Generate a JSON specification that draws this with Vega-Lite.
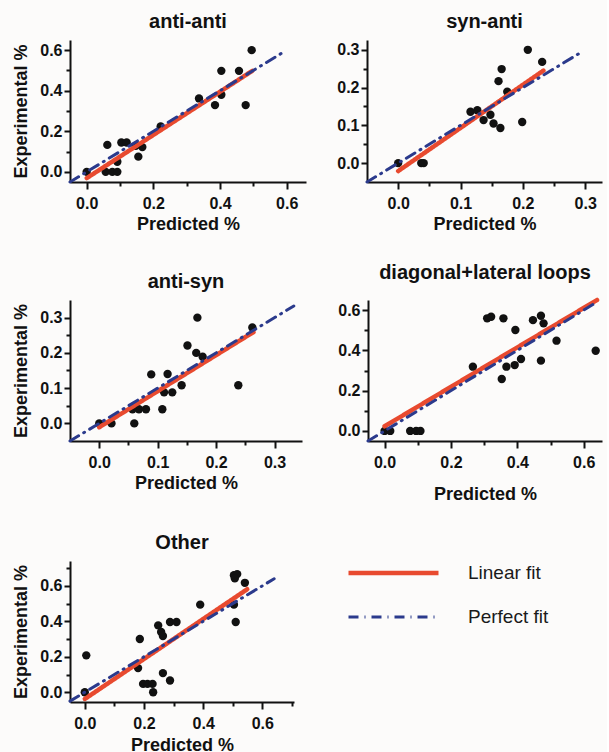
{
  "$schema": "https://vega.github.io/schema/vega-lite/v6.json",
  "background": "#fcfbfa",
  "padding": {"left": 12, "top": 12, "right": 0, "bottom": 0},
  "datasets": {
    "p1": [
      {"predicted": 0.0, "experimental": 0.0},
      {"predicted": 0.062, "experimental": 0.133},
      {"predicted": 0.057, "experimental": 0.0},
      {"predicted": 0.077, "experimental": 0.0},
      {"predicted": 0.092, "experimental": 0.0},
      {"predicted": 0.092, "experimental": 0.05},
      {"predicted": 0.104, "experimental": 0.145},
      {"predicted": 0.12, "experimental": 0.145},
      {"predicted": 0.147, "experimental": 0.128},
      {"predicted": 0.167, "experimental": 0.122},
      {"predicted": 0.155, "experimental": 0.075},
      {"predicted": 0.222, "experimental": 0.224},
      {"predicted": 0.337, "experimental": 0.362},
      {"predicted": 0.385, "experimental": 0.329},
      {"predicted": 0.404, "experimental": 0.38},
      {"predicted": 0.404, "experimental": 0.498},
      {"predicted": 0.457, "experimental": 0.498},
      {"predicted": 0.477, "experimental": 0.329},
      {"predicted": 0.495, "experimental": 0.6}
    ],
    "p1fit": [
      {"series": "Linear fit", "predicted": 0.0, "experimental": -0.031},
      {"series": "Linear fit", "predicted": 0.497, "experimental": 0.498},
      {"series": "Perfect fit", "predicted": -0.05, "experimental": -0.05},
      {"series": "Perfect fit", "predicted": 0.587, "experimental": 0.587}
    ],
    "p2": [
      {"predicted": 0.0, "experimental": 0.0},
      {"predicted": 0.037, "experimental": 0.0},
      {"predicted": 0.041, "experimental": 0.0},
      {"predicted": 0.116, "experimental": 0.136},
      {"predicted": 0.127, "experimental": 0.14},
      {"predicted": 0.137, "experimental": 0.114},
      {"predicted": 0.148, "experimental": 0.128},
      {"predicted": 0.153, "experimental": 0.105},
      {"predicted": 0.164, "experimental": 0.093},
      {"predicted": 0.161, "experimental": 0.217},
      {"predicted": 0.166, "experimental": 0.249},
      {"predicted": 0.175, "experimental": 0.189},
      {"predicted": 0.199, "experimental": 0.109},
      {"predicted": 0.208, "experimental": 0.3},
      {"predicted": 0.231, "experimental": 0.268}
    ],
    "p2fit": [
      {"series": "Linear fit", "predicted": 0.0, "experimental": -0.021},
      {"series": "Linear fit", "predicted": 0.233, "experimental": 0.245},
      {"series": "Perfect fit", "predicted": -0.05, "experimental": -0.05},
      {"series": "Perfect fit", "predicted": 0.292, "experimental": 0.292}
    ],
    "p3": [
      {"predicted": 0.0, "experimental": 0.0},
      {"predicted": 0.021, "experimental": 0.0},
      {"predicted": 0.06, "experimental": 0.0},
      {"predicted": 0.057, "experimental": 0.04},
      {"predicted": 0.068, "experimental": 0.04},
      {"predicted": 0.08, "experimental": 0.04},
      {"predicted": 0.089, "experimental": 0.139},
      {"predicted": 0.108, "experimental": 0.04},
      {"predicted": 0.111, "experimental": 0.088},
      {"predicted": 0.117, "experimental": 0.14},
      {"predicted": 0.125, "experimental": 0.088},
      {"predicted": 0.141, "experimental": 0.108},
      {"predicted": 0.151, "experimental": 0.221},
      {"predicted": 0.166, "experimental": 0.2},
      {"predicted": 0.168, "experimental": 0.3},
      {"predicted": 0.177, "experimental": 0.189},
      {"predicted": 0.238, "experimental": 0.108},
      {"predicted": 0.262, "experimental": 0.272}
    ],
    "p3fit": [
      {"series": "Linear fit", "predicted": 0.0, "experimental": -0.011},
      {"series": "Linear fit", "predicted": 0.264, "experimental": 0.259},
      {"series": "Perfect fit", "predicted": -0.05, "experimental": -0.05},
      {"series": "Perfect fit", "predicted": 0.333, "experimental": 0.333}
    ],
    "p4": [
      {"predicted": 0.0, "experimental": 0.0},
      {"predicted": 0.017, "experimental": 0.0},
      {"predicted": 0.077, "experimental": 0.0},
      {"predicted": 0.095, "experimental": 0.0},
      {"predicted": 0.108, "experimental": 0.0},
      {"predicted": 0.266, "experimental": 0.319},
      {"predicted": 0.309, "experimental": 0.559},
      {"predicted": 0.321, "experimental": 0.567},
      {"predicted": 0.358, "experimental": 0.559},
      {"predicted": 0.353, "experimental": 0.258},
      {"predicted": 0.367, "experimental": 0.319},
      {"predicted": 0.394, "experimental": 0.501},
      {"predicted": 0.392, "experimental": 0.327},
      {"predicted": 0.411, "experimental": 0.357},
      {"predicted": 0.447, "experimental": 0.55},
      {"predicted": 0.471, "experimental": 0.572},
      {"predicted": 0.479, "experimental": 0.534},
      {"predicted": 0.471, "experimental": 0.349},
      {"predicted": 0.518, "experimental": 0.448},
      {"predicted": 0.636, "experimental": 0.398}
    ],
    "p4fit": [
      {"series": "Linear fit", "predicted": 0.0, "experimental": 0.023},
      {"series": "Linear fit", "predicted": 0.64, "experimental": 0.65},
      {"series": "Perfect fit", "predicted": -0.05, "experimental": -0.05},
      {"series": "Perfect fit", "predicted": 0.63, "experimental": 0.63}
    ],
    "p5": [
      {"predicted": 0.0, "experimental": 0.0},
      {"predicted": 0.005, "experimental": 0.208},
      {"predicted": 0.18, "experimental": 0.136},
      {"predicted": 0.186, "experimental": 0.3},
      {"predicted": 0.197, "experimental": 0.047},
      {"predicted": 0.212, "experimental": 0.047},
      {"predicted": 0.229, "experimental": 0.047},
      {"predicted": 0.231, "experimental": 0.0},
      {"predicted": 0.248, "experimental": 0.377},
      {"predicted": 0.258, "experimental": 0.34},
      {"predicted": 0.264, "experimental": 0.317},
      {"predicted": 0.264, "experimental": 0.108},
      {"predicted": 0.288, "experimental": 0.066},
      {"predicted": 0.288, "experimental": 0.396},
      {"predicted": 0.31, "experimental": 0.396},
      {"predicted": 0.39, "experimental": 0.494},
      {"predicted": 0.504, "experimental": 0.494},
      {"predicted": 0.504, "experimental": 0.66},
      {"predicted": 0.515, "experimental": 0.666},
      {"predicted": 0.507, "experimental": 0.642},
      {"predicted": 0.51, "experimental": 0.396},
      {"predicted": 0.541, "experimental": 0.617}
    ],
    "p5fit": [
      {"series": "Linear fit", "predicted": 0.0, "experimental": -0.038},
      {"series": "Linear fit", "predicted": 0.549, "experimental": 0.581},
      {"series": "Perfect fit", "predicted": -0.05, "experimental": -0.05},
      {"series": "Perfect fit", "predicted": 0.64, "experimental": 0.64}
    ]
  },
  "resolve": {"scale": {"color": "independent", "strokeDash": "independent", "strokeWidth": "independent"}},
  "vconcat": [
    {
      "hconcat": [
        {
          "title": "anti-anti",
          "width": 236, "height": 142,
          "resolve": {"axis": {"x": "independent", "y": "independent"}},
          "layer": [
            {
              "data": {"name": "p1"},
              "mark": {"type": "circle", "size": 70, "color": "#111111", "opacity": 1},
              "encoding": {
                "x": {"field": "predicted", "type": "quantitative", "scale": {"domain": [-0.05, 0.658], "nice": false, "zero": false}, "axis": {"orient": "bottom", "values": [0, 0.2, 0.4, 0.6], "format": ".1f", "title": "Predicted %"}},
                "y": {"field": "experimental", "type": "quantitative", "scale": {"domain": [-0.05, 0.65], "nice": false, "zero": false}, "axis": {"orient": "left", "values": [0, 0.2, 0.4, 0.6], "format": ".1f", "title": "Experimental %"}}
              }
            },
            {
              "data": {"name": "p1fit"},
              "mark": {"type": "line", "strokeCap": "round"},
              "encoding": {
                "x": {"field": "predicted", "type": "quantitative", "axis": {"orient": "bottom", "values": [0.1, 0.3, 0.5], "labels": false, "domain": false, "title": null, "tickSize": 4}},
                "y": {"field": "experimental", "type": "quantitative", "axis": {"orient": "left", "values": [0.1, 0.3, 0.5], "labels": false, "domain": false, "title": null, "tickSize": 4}},
                "color": {"field": "series", "type": "nominal", "scale": {"domain": ["Linear fit", "Perfect fit"], "range": ["#e84a2f", "#2b3a8c"]}, "legend": null},
                "strokeDash": {"field": "series", "type": "nominal", "scale": {"domain": ["Linear fit", "Perfect fit"], "range": [[1, 0], [10, 6, 1, 6]]}, "legend": null},
                "strokeWidth": {"field": "series", "type": "nominal", "scale": {"domain": ["Linear fit", "Perfect fit"], "range": [4.5, 3]}, "legend": null}
              }
            }
          ]
        },
        {
          "title": "syn-anti",
          "width": 235, "height": 142,
          "resolve": {"axis": {"x": "independent", "y": "independent"}},
          "layer": [
            {
              "data": {"name": "p2"},
              "mark": {"type": "circle", "size": 70, "color": "#111111", "opacity": 1},
              "encoding": {
                "x": {"field": "predicted", "type": "quantitative", "scale": {"domain": [-0.05, 0.327], "nice": false, "zero": false}, "axis": {"orient": "bottom", "values": [0, 0.1, 0.2, 0.3], "format": ".1f", "title": "Predicted %"}},
                "y": {"field": "experimental", "type": "quantitative", "scale": {"domain": [-0.05, 0.326], "nice": false, "zero": false}, "axis": {"orient": "left", "values": [0, 0.1, 0.2, 0.3], "format": ".1f", "title": null}}
              }
            },
            {
              "data": {"name": "p2fit"},
              "mark": {"type": "line", "strokeCap": "round"},
              "encoding": {
                "x": {"field": "predicted", "type": "quantitative", "axis": {"orient": "bottom", "values": [0.05, 0.15, 0.25], "labels": false, "domain": false, "title": null, "tickSize": 4}},
                "y": {"field": "experimental", "type": "quantitative", "axis": {"orient": "left", "values": [0.05, 0.15, 0.25], "labels": false, "domain": false, "title": null, "tickSize": 4}},
                "color": {"field": "series", "type": "nominal", "scale": {"domain": ["Linear fit", "Perfect fit"], "range": ["#e84a2f", "#2b3a8c"]}, "legend": null},
                "strokeDash": {"field": "series", "type": "nominal", "scale": {"domain": ["Linear fit", "Perfect fit"], "range": [[1, 0], [10, 6, 1, 6]]}, "legend": null},
                "strokeWidth": {"field": "series", "type": "nominal", "scale": {"domain": ["Linear fit", "Perfect fit"], "range": [4.5, 3]}, "legend": null}
              }
            }
          ]
        }
      ],
      "spacing": 30
    },
    {
      "hconcat": [
        {
          "title": "anti-syn",
          "width": 232, "height": 141,
          "resolve": {"axis": {"x": "independent", "y": "independent"}},
          "layer": [
            {
              "data": {"name": "p3"},
              "mark": {"type": "circle", "size": 70, "color": "#111111", "opacity": 1},
              "encoding": {
                "x": {"field": "predicted", "type": "quantitative", "scale": {"domain": [-0.05, 0.347], "nice": false, "zero": false}, "axis": {"orient": "bottom", "values": [0, 0.1, 0.2, 0.3], "format": ".1f", "title": "Predicted %"}},
                "y": {"field": "experimental", "type": "quantitative", "scale": {"domain": [-0.05, 0.35], "nice": false, "zero": false}, "axis": {"orient": "left", "values": [0, 0.1, 0.2, 0.3], "format": ".1f", "title": "Experimental %"}}
              }
            },
            {
              "data": {"name": "p3fit"},
              "mark": {"type": "line", "strokeCap": "round"},
              "encoding": {
                "x": {"field": "predicted", "type": "quantitative", "axis": {"orient": "bottom", "values": [0.05, 0.15, 0.25], "labels": false, "domain": false, "title": null, "tickSize": 4}},
                "y": {"field": "experimental", "type": "quantitative", "axis": {"orient": "left", "values": [0.05, 0.15, 0.25], "labels": false, "domain": false, "title": null, "tickSize": 4}},
                "color": {"field": "series", "type": "nominal", "scale": {"domain": ["Linear fit", "Perfect fit"], "range": ["#e84a2f", "#2b3a8c"]}, "legend": null},
                "strokeDash": {"field": "series", "type": "nominal", "scale": {"domain": ["Linear fit", "Perfect fit"], "range": [[1, 0], [10, 6, 1, 6]]}, "legend": null},
                "strokeWidth": {"field": "series", "type": "nominal", "scale": {"domain": ["Linear fit", "Perfect fit"], "range": [4.5, 3]}, "legend": null}
              }
            }
          ]
        },
        {
          "title": "diagonal+lateral loops",
          "width": 234, "height": 141,
          "resolve": {"axis": {"x": "independent", "y": "independent"}},
          "layer": [
            {
              "data": {"name": "p4"},
              "mark": {"type": "circle", "size": 70, "color": "#111111", "opacity": 1},
              "encoding": {
                "x": {"field": "predicted", "type": "quantitative", "scale": {"domain": [-0.05, 0.655], "nice": false, "zero": false}, "axis": {"orient": "bottom", "values": [0, 0.2, 0.4, 0.6], "format": ".1f", "title": "Predicted %", "titlePadding": 15}},
                "y": {"field": "experimental", "type": "quantitative", "scale": {"domain": [-0.05, 0.65], "nice": false, "zero": false}, "axis": {"orient": "left", "values": [0, 0.2, 0.4, 0.6], "format": ".1f", "title": null}}
              }
            },
            {
              "data": {"name": "p4fit"},
              "mark": {"type": "line", "strokeCap": "round"},
              "encoding": {
                "x": {"field": "predicted", "type": "quantitative", "axis": {"orient": "bottom", "values": [0.1, 0.3, 0.5], "labels": false, "domain": false, "title": null, "tickSize": 4}},
                "y": {"field": "experimental", "type": "quantitative", "axis": {"orient": "left", "values": [0.1, 0.3, 0.5], "labels": false, "domain": false, "title": null, "tickSize": 4}},
                "color": {"field": "series", "type": "nominal", "scale": {"domain": ["Linear fit", "Perfect fit"], "range": ["#e84a2f", "#2b3a8c"]}, "legend": null},
                "strokeDash": {"field": "series", "type": "nominal", "scale": {"domain": ["Linear fit", "Perfect fit"], "range": [[1, 0], [10, 6, 1, 6]]}, "legend": null},
                "strokeWidth": {"field": "series", "type": "nominal", "scale": {"domain": ["Linear fit", "Perfect fit"], "range": [4.5, 3]}, "legend": null}
              }
            }
          ]
        }
      ],
      "spacing": 35
    },
    {
      "title": "Other",
      "width": 224, "height": 141,
      "resolve": {"axis": {"x": "independent", "y": "independent"}},
      "layer": [
        {
          "data": {"name": "p5"},
          "mark": {"type": "circle", "size": 70, "color": "#111111", "opacity": 1},
          "encoding": {
            "x": {"field": "predicted", "type": "quantitative", "scale": {"domain": [-0.05, 0.707], "nice": false, "zero": false}, "axis": {"orient": "bottom", "values": [0, 0.2, 0.4, 0.6], "format": ".1f", "title": "Predicted %", "titlePadding": 5}},
            "y": {"field": "experimental", "type": "quantitative", "scale": {"domain": [-0.055, 0.74], "nice": false, "zero": false}, "axis": {"orient": "left", "values": [0, 0.2, 0.4, 0.6], "format": ".1f", "title": "Experimental %"}}
          }
        },
        {
          "data": {"name": "p5fit"},
          "mark": {"type": "line", "strokeCap": "round"},
          "encoding": {
            "x": {"field": "predicted", "type": "quantitative", "axis": {"orient": "bottom", "values": [0.1, 0.3, 0.5, 0.7], "labels": false, "domain": false, "title": null, "tickSize": 4}},
            "y": {"field": "experimental", "type": "quantitative", "axis": {"orient": "left", "values": [0.1, 0.3, 0.5, 0.7], "labels": false, "domain": false, "title": null, "tickSize": 4}},
            "color": {"field": "series", "type": "nominal", "scale": {"domain": ["Linear fit", "Perfect fit"], "range": ["#e84a2f", "#2b3a8c"]},
              "legend": {"orient": "none", "legendX": 276, "legendY": 1, "padding": 0, "title": null, "symbolType": "stroke", "symbolSize": 8100, "symbolStrokeWidth": 4.5, "labelFontSize": 19, "labelFont": "Liberation Sans", "labelFontWeight": "normal", "labelColor": "#1a1a1a", "labelOffset": 27, "rowPadding": 22, "clipHeight": 22}},
            "strokeDash": {"field": "series", "type": "nominal", "scale": {"domain": ["Linear fit", "Perfect fit"], "range": [[1, 0], [10, 6, 1, 6]]},
              "legend": {"orient": "none", "legendX": 276, "legendY": 1, "padding": 0, "title": null, "symbolType": "stroke", "symbolSize": 8100, "symbolStrokeWidth": 4.5, "labelFontSize": 19, "labelFont": "Liberation Sans", "labelFontWeight": "normal", "labelColor": "#1a1a1a", "labelOffset": 27, "rowPadding": 22, "clipHeight": 22}},
            "strokeWidth": {"field": "series", "type": "nominal", "scale": {"domain": ["Linear fit", "Perfect fit"], "range": [4.5, 3]}, "legend": null}
          }
        }
      ]
    }
  ],
  "spacing": 30,
  "config": {
    "font": "Liberation Sans",
    "view": {"stroke": null},
    "title": {"fontSize": 20, "fontWeight": "bold", "color": "#111111", "frame": "group", "offset": 8, "font": "Liberation Sans"},
    "axis": {
      "grid": false,
      "domainColor": "#111111", "domainWidth": 2,
      "tickColor": "#111111", "tickWidth": 2, "tickSize": 7,
      "labelFont": "Liberation Sans", "labelFontWeight": "bold", "labelFontSize": 16, "labelColor": "#111111",
      "titleFont": "Liberation Sans", "titleFontWeight": "bold", "titleFontSize": 18, "titleColor": "#111111"
    },
    "axisX": {"labelPadding": 6, "titlePadding": 4},
    "axisY": {"labelPadding": 2, "titlePadding": 9, "tickSize": 6}
  }
}
